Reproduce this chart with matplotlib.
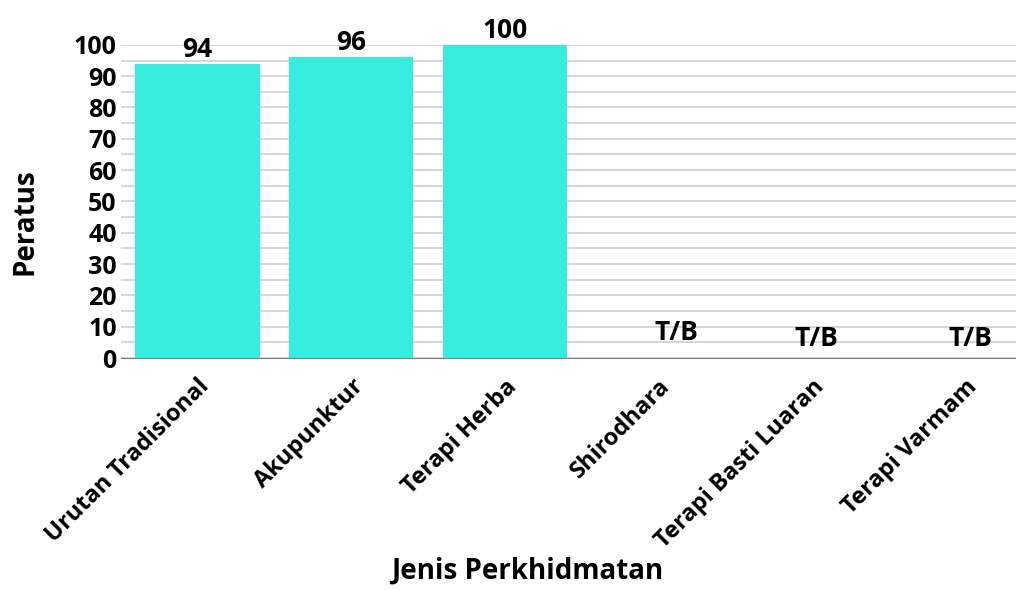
import numpy as np
import matplotlib.pyplot as plt

categories = ['Urutan Tradisional', 'Akupunktur', 'Terapi Herba',
              'Shirodhara', 'Terapi Basti Luaran', 'Terapi Varmam']
values = [94, 96, 100, 0, 0, 0]
labels = ['94', '96', '100', 'T/B', 'T/B', 'T/B']

plt.rcParams['font.family'] = ['Open Sans', 'DejaVu Sans']
plt.rcParams['font.weight'] = 'bold'

fig = plt.figure(figsize=(10.16, 5.9), dpi=100)
ax = fig.add_axes([0.119, 0.393, 0.881, 0.531])

x = np.arange(len(categories))
ax.bar(x, values, width=0.81, color='#36EDE0', zorder=2)

# value labels (T/B placed a bit higher, as in the original)
tb_dx = [0, 0, 0, 0.12, 0.03, 0.03]
for i, (v, lab) in enumerate(zip(values, labels)):
    if lab == 'T/B':
        y = 4.0 if i == 3 else 2.0
    else:
        y = v + 0.3
    ax.text(i + tb_dx[i], y, lab, ha='center', va='bottom', fontsize=19,
            fontweight='bold', clip_on=False)

ax.set_xlim(-0.5, 5.33)
ax.set_ylim(0, 100)
ax.set_yticks(np.arange(0, 101, 10))
ax.set_yticks(np.arange(0, 101, 5), minor=True)
ax.grid(axis='y', which='both', color='#d0d0d0', lw=1.2, zorder=0)
ax.tick_params(axis='y', which='both', length=0, labelsize=18, pad=3)
ax.set_xticks(x)
ax.set_xticklabels(categories, rotation=45, ha='right', rotation_mode='anchor',
                   fontsize=17, fontweight='bold')
ax.tick_params(axis='x', length=0, pad=12)
for s in ['top', 'right', 'left']:
    ax.spines[s].set_visible(False)
ax.spines['bottom'].set_color('#808080')
ax.spines['bottom'].set_zorder(3)

fig.text(0.025, 0.624, 'Peratus', rotation=90, ha='center', va='center',
         fontsize=20, fontweight='bold')
fig.text(0.519, 0.008, 'Jenis Perkhidmatan', ha='center', va='bottom',
         fontsize=20, fontweight='bold')

fig.savefig('out.png', dpi=100)
